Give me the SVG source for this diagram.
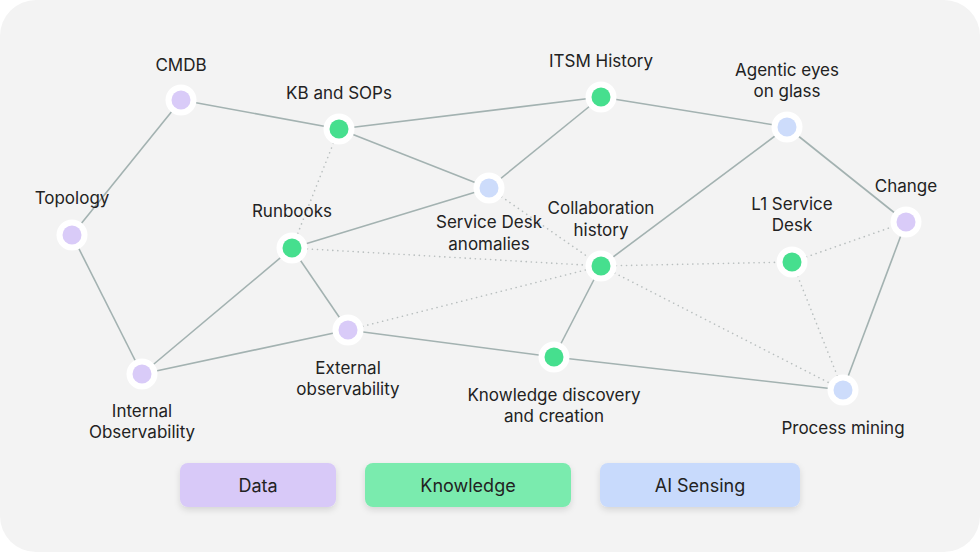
<svg xmlns="http://www.w3.org/2000/svg" width="980" height="552" viewBox="0 0 980 552">
<defs>
<style>
.solid{stroke:#a3b2b1;stroke-width:1.6;fill:none}
.dot{stroke:#b9bfbf;stroke-width:1.6;fill:none;stroke-dasharray:0.1 5;stroke-linecap:round}
.ring{fill:#ffffff}
.d{fill:#d9cbf8}
.k{fill:#46df8e}
.a{fill:#cddcfb}
text{font-family:Inter,"Noto Sans","Liberation Sans",sans-serif;font-size:17px;fill:#222222;text-anchor:middle}
.lg{font-size:18px}
</style>
<filter id="sh" x="-20%" y="-30%" width="140%" height="170%">
<feDropShadow dx="0" dy="3" stdDeviation="3" flood-color="#000" flood-opacity="0.12"/>
</filter>
</defs>
<rect x="0" y="0" width="980" height="552" fill="#ffffff"/>
<rect x="0" y="0" width="980" height="552" rx="36" fill="#f3f3f3"/>
<g id="connectors">
<line class="solid" x1="181" y1="100" x2="339" y2="129"/>
<line class="solid" x1="181" y1="100" x2="72" y2="235"/>
<line class="solid" x1="339" y1="129" x2="601" y2="97"/>
<line class="solid" x1="339" y1="129" x2="489" y2="188"/>
<line class="solid" x1="601" y1="97" x2="489" y2="188"/>
<line class="solid" x1="601" y1="97" x2="787" y2="127"/>
<line class="solid" x1="787" y1="127" x2="906" y2="222"/>
<line class="solid" x1="787" y1="127" x2="601" y2="266"/>
<line class="solid" x1="906" y1="222" x2="843" y2="390"/>
<line class="solid" x1="72" y1="235" x2="142" y2="374"/>
<line class="solid" x1="292" y1="248" x2="489" y2="188"/>
<line class="solid" x1="292" y1="248" x2="142" y2="374"/>
<line class="solid" x1="292" y1="248" x2="348" y2="330"/>
<line class="solid" x1="142" y1="374" x2="348" y2="330"/>
<line class="solid" x1="348" y1="330" x2="554" y2="357"/>
<line class="solid" x1="554" y1="357" x2="843" y2="390"/>
<line class="solid" x1="601" y1="266" x2="554" y2="357"/>
<line class="dot" x1="339" y1="129" x2="292" y2="248"/>
<line class="dot" x1="292" y1="248" x2="601" y2="266"/>
<line class="dot" x1="489" y1="188" x2="601" y2="266"/>
<line class="dot" x1="348" y1="330" x2="601" y2="266"/>
<line class="dot" x1="601" y1="266" x2="792" y2="262"/>
<line class="dot" x1="792" y1="262" x2="906" y2="222"/>
<line class="dot" x1="601" y1="266" x2="843" y2="390"/>
<line class="dot" x1="792" y1="262" x2="843" y2="390"/>
</g>
<g id="cmdb"><circle class="ring" cx="181" cy="100" r="15.5"/><circle class="d" cx="181" cy="100" r="9.5"/><text x="181" y="71">CMDB</text></g>
<g id="kb"><circle class="ring" cx="339" cy="129" r="15.5"/><circle class="k" cx="339" cy="129" r="9.5"/><text x="339" y="99">KB and SOPs</text></g>
<g id="itsm"><circle class="ring" cx="601" cy="97" r="15.5"/><circle class="k" cx="601" cy="97" r="9.5"/><text x="601" y="67">ITSM History</text></g>
<g id="agentic"><circle class="ring" cx="787" cy="127" r="15.5"/><circle class="a" cx="787" cy="127" r="9.5"/><text x="787" y="76">Agentic eyes</text><text x="787" y="97">on glass</text></g>
<g id="topology"><circle class="ring" cx="72" cy="235" r="15.5"/><circle class="d" cx="72" cy="235" r="9.5"/><text x="72" y="204">Topology</text></g>
<g id="runbooks"><circle class="ring" cx="292" cy="248" r="15.5"/><circle class="k" cx="292" cy="248" r="9.5"/><text x="292" y="217">Runbooks</text></g>
<g id="servicedesk"><circle class="ring" cx="489" cy="188" r="15.5"/><circle class="a" cx="489" cy="188" r="9.5"/><text x="489" y="228">Service Desk</text><text x="489" y="250">anomalies</text></g>
<g id="collab"><circle class="ring" cx="601" cy="266" r="15.5"/><circle class="k" cx="601" cy="266" r="9.5"/><text x="601" y="214">Collaboration</text><text x="601" y="236">history</text></g>
<g id="l1"><circle class="ring" cx="792" cy="262" r="15.5"/><circle class="k" cx="792" cy="262" r="9.5"/><text x="792" y="210">L1 Service</text><text x="792" y="231">Desk</text></g>
<g id="change"><circle class="ring" cx="906" cy="222" r="15.5"/><circle class="d" cx="906" cy="222" r="9.5"/><text x="906" y="192">Change</text></g>
<g id="internal"><circle class="ring" cx="142" cy="374" r="15.5"/><circle class="d" cx="142" cy="374" r="9.5"/><text x="142" y="417">Internal</text><text x="142" y="438">Observability</text></g>
<g id="external"><circle class="ring" cx="348" cy="330" r="15.5"/><circle class="d" cx="348" cy="330" r="9.5"/><text x="348" y="374">External</text><text x="348" y="395">observability</text></g>
<g id="kdisc"><circle class="ring" cx="554" cy="357" r="15.5"/><circle class="k" cx="554" cy="357" r="9.5"/><text x="554" y="401">Knowledge discovery</text><text x="554" y="422">and creation</text></g>
<g id="process"><circle class="ring" cx="843" cy="390" r="15.5"/><circle class="a" cx="843" cy="390" r="9.5"/><text x="843" y="434">Process mining</text></g>
<g id="legend-data"><rect x="180" y="463" width="156" height="44" rx="8" fill="#d8c9f8" filter="url(#sh)"/><text class="lg" x="258" y="492">Data</text></g>
<g id="legend-knowledge"><rect x="365" y="463" width="206" height="44" rx="8" fill="#7aebae" filter="url(#sh)"/><text class="lg" x="468" y="492">Knowledge</text></g>
<g id="legend-ai"><rect x="600" y="463" width="200" height="44" rx="8" fill="#c8dafc" filter="url(#sh)"/><text class="lg" x="700" y="492">AI Sensing</text></g>
</svg>
